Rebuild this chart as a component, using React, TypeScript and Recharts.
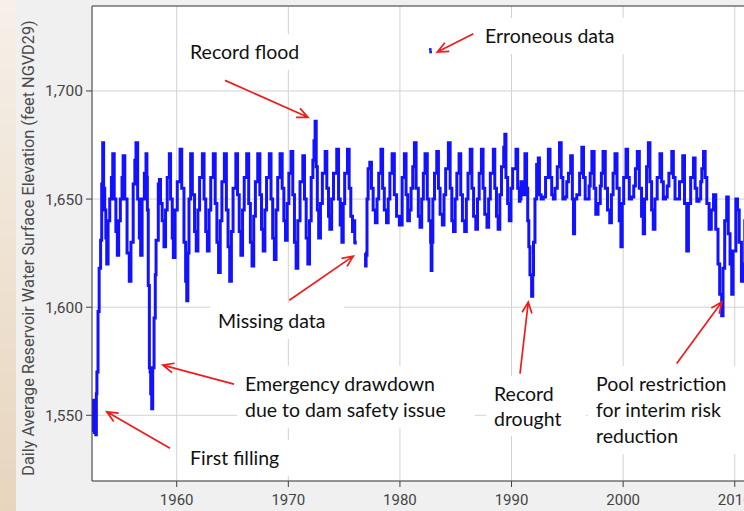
import { ComposedChart, Line, Scatter, XAxis, YAxis, CartesianGrid, ReferenceLine } from 'recharts'

type Pt = [number, number | null]

// daily elevation at a few points per yearly cycle
const elev1950s: Pt[] = [
  [1952.45, 1556], [1952.5, 1543], [1952.55, 1557], [1952.62, 1542], [1952.68, 1555], [1952.75, 1541],
  [1952.8, 1560], [1952.85, 1570], [1952.95, 1598],
  [1953.05, 1618], [1953.18, 1631], [1953.28, 1657], [1953.37, 1676], [1953.45, 1655], [1953.55, 1645],
  [1953.65, 1632], [1953.73, 1620], [1953.85, 1640],
  [1954.0, 1650], [1954.15, 1660], [1954.27, 1671], [1954.4, 1650], [1954.55, 1635], [1954.68, 1624], [1954.8, 1640],
  [1954.95, 1650], [1955.1, 1660], [1955.2, 1670], [1955.35, 1650], [1955.55, 1625], [1955.75, 1612], [1955.9, 1630],
  [1956.1, 1657], [1956.25, 1668], [1956.35, 1676], [1956.5, 1650], [1956.65, 1632], [1956.77, 1624], [1956.9, 1650],
  [1957.1, 1662], [1957.25, 1671], [1957.33, 1660], [1957.37, 1645], [1957.45, 1610], [1957.55, 1572],
  [1957.62, 1570], [1957.67, 1560], [1957.76, 1553], [1957.85, 1572], [1957.97, 1595],
  [1958.08, 1615], [1958.15, 1631], [1958.35, 1657], [1958.45, 1659], [1958.55, 1648], [1958.7, 1640], [1958.86, 1628],
  [1959.0, 1645], [1959.15, 1660], [1959.34, 1671], [1959.45, 1650], [1959.6, 1632], [1959.7, 1623], [1959.85, 1645],
]

const elev1960s: Pt[] = [
  [1960.05, 1658], [1960.3, 1673], [1960.45, 1655], [1960.65, 1630], [1960.8, 1612], [1960.9, 1603],
  [1961.0, 1625], [1961.1, 1650], [1961.25, 1671], [1961.4, 1652], [1961.6, 1635], [1961.75, 1626], [1961.9, 1645],
  [1962.05, 1660], [1962.3, 1671], [1962.45, 1650], [1962.6, 1635], [1962.75, 1626], [1962.9, 1645],
  [1963.05, 1660], [1963.28, 1671], [1963.45, 1648], [1963.6, 1630], [1963.75, 1616], [1963.9, 1640],
  [1964.05, 1658], [1964.27, 1671], [1964.45, 1645], [1964.6, 1628], [1964.75, 1612], [1964.9, 1635],
  [1965.05, 1655], [1965.3, 1671], [1965.45, 1652], [1965.6, 1635], [1965.75, 1624], [1965.9, 1645],
  [1966.05, 1660], [1966.27, 1671], [1966.45, 1648], [1966.6, 1630], [1966.75, 1619], [1966.9, 1642],
  [1967.05, 1658], [1967.26, 1671], [1967.45, 1652], [1967.6, 1636], [1967.75, 1626], [1967.9, 1645],
  [1968.05, 1660], [1968.3, 1671], [1968.45, 1650], [1968.6, 1632], [1968.75, 1622], [1968.9, 1645],
  [1969.05, 1660], [1969.26, 1671], [1969.45, 1655], [1969.6, 1640], [1969.75, 1631], [1969.9, 1648],
]

const elev1970s: Pt[] = [
  [1970.05, 1662], [1970.24, 1672], [1970.4, 1652], [1970.55, 1630], [1970.7, 1618], [1970.85, 1640],
  [1971.05, 1658], [1971.3, 1670], [1971.45, 1650], [1971.6, 1632], [1971.75, 1620], [1971.9, 1640],
  [1972.05, 1660], [1972.2, 1668], [1972.3, 1677], [1972.4, 1686], [1972.5, 1665], [1972.6, 1645], [1972.72, 1632], [1972.88, 1648],
  [1973.05, 1662], [1973.3, 1672], [1973.45, 1655], [1973.6, 1642], [1973.72, 1636], [1973.88, 1650],
  [1974.05, 1662], [1974.34, 1673], [1974.5, 1650], [1974.65, 1638], [1974.8, 1630], [1974.92, 1648],
  [1975.05, 1662], [1975.3, 1673], [1975.45, 1655], [1975.6, 1642], [1975.75, 1635], [1975.85, 1640], [1975.95, 1630], [1976.0, 1629],
  [1976.4, null],
  [1976.87, 1625], [1976.92, 1619], [1976.97, 1624],
  [1977.05, 1650], [1977.15, 1664], [1977.3, 1667], [1977.45, 1655], [1977.6, 1645], [1977.8, 1639], [1977.95, 1650],
  [1978.1, 1662], [1978.3, 1673], [1978.45, 1655], [1978.6, 1645], [1978.8, 1639], [1978.95, 1650],
  [1979.1, 1662], [1979.3, 1671], [1979.5, 1652], [1979.7, 1642], [1979.95, 1638],
]

const elev1980s: Pt[] = [
  [1980.2, 1660], [1980.4, 1671], [1980.55, 1652], [1980.7, 1640], [1980.85, 1645],
  [1981.0, 1655], [1981.15, 1665], [1981.3, 1676], [1981.45, 1655], [1981.65, 1642], [1981.8, 1637], [1981.95, 1650],
  [1982.1, 1662], [1982.25, 1671], [1982.45, 1650], [1982.6, 1640], [1982.75, 1630], [1982.8, 1617], [1982.87, 1630], [1982.95, 1650],
  [1983.1, 1662], [1983.3, 1672], [1983.45, 1655], [1983.6, 1643], [1983.8, 1638], [1983.95, 1652],
  [1984.1, 1664], [1984.34, 1676], [1984.5, 1655], [1984.65, 1640], [1984.8, 1635], [1984.95, 1650],
  [1985.1, 1662], [1985.3, 1671], [1985.45, 1652], [1985.6, 1640], [1985.8, 1635], [1985.95, 1650],
  [1986.1, 1662], [1986.3, 1673], [1986.45, 1655], [1986.6, 1642], [1986.8, 1636], [1986.95, 1650],
  [1987.1, 1662], [1987.3, 1673], [1987.45, 1655], [1987.6, 1643], [1987.8, 1637], [1987.95, 1650],
  [1988.1, 1662], [1988.37, 1673], [1988.5, 1655], [1988.65, 1642], [1988.8, 1636], [1988.95, 1652],
  [1989.1, 1665], [1989.3, 1674], [1989.4, 1680], [1989.5, 1660], [1989.65, 1648], [1989.8, 1640], [1989.95, 1655],
]

const elev1990s: Pt[] = [
  [1990.1, 1664], [1990.4, 1673], [1990.55, 1655], [1990.7, 1649], [1990.76, 1650], [1990.85, 1658],
  [1991.0, 1652], [1991.2, 1671], [1991.35, 1655], [1991.45, 1640], [1991.55, 1628], [1991.65, 1615], [1991.8, 1605], [1991.9, 1615], [1991.97, 1630],
  [1992.1, 1650], [1992.25, 1666], [1992.4, 1669], [1992.5, 1652], [1992.65, 1650], [1992.85, 1651],
  [1993.05, 1660], [1993.3, 1673], [1993.45, 1660], [1993.6, 1652], [1993.75, 1650], [1993.9, 1655],
  [1994.1, 1665], [1994.3, 1676], [1994.45, 1660], [1994.6, 1650], [1994.8, 1651], [1994.95, 1658],
  [1995.1, 1662], [1995.3, 1670], [1995.45, 1650], [1995.55, 1634], [1995.65, 1650], [1995.85, 1652],
  [1996.1, 1662], [1996.3, 1674], [1996.45, 1660], [1996.6, 1650], [1996.8, 1650], [1996.95, 1656],
  [1997.05, 1662], [1997.2, 1672], [1997.4, 1655], [1997.55, 1643], [1997.75, 1648], [1997.95, 1656],
  [1998.05, 1662], [1998.2, 1672], [1998.4, 1655], [1998.6, 1645], [1998.8, 1639], [1998.95, 1652],
  [1999.1, 1662], [1999.27, 1671], [1999.45, 1655], [1999.65, 1640], [1999.8, 1628], [1999.92, 1648],
]

const elev2000s: Pt[] = [
  [2000.05, 1660], [2000.26, 1673], [2000.4, 1660], [2000.55, 1650], [2000.75, 1651], [2000.95, 1656],
  [2001.1, 1664], [2001.27, 1672], [2001.45, 1655], [2001.65, 1642], [2001.8, 1634], [2001.92, 1650],
  [2002.1, 1665], [2002.26, 1676], [2002.4, 1658], [2002.55, 1645], [2002.7, 1636], [2002.85, 1650],
  [2003.05, 1660], [2003.3, 1671], [2003.45, 1658], [2003.6, 1650], [2003.8, 1651], [2003.95, 1656],
  [2004.1, 1662], [2004.36, 1672], [2004.5, 1660], [2004.65, 1650], [2004.85, 1650],
  [2005.05, 1658], [2005.34, 1670], [2005.5, 1648], [2005.7, 1626], [2005.85, 1648],
  [2006.05, 1660], [2006.3, 1669], [2006.45, 1655], [2006.6, 1649], [2006.8, 1650], [2006.95, 1658],
  [2007.05, 1664], [2007.2, 1672], [2007.35, 1660], [2007.5, 1648], [2007.7, 1636], [2007.9, 1645],
  [2008.1, 1652], [2008.3, 1636], [2008.5, 1620], [2008.65, 1606], [2008.83, 1596], [2008.95, 1618],
  [2009.1, 1640], [2009.28, 1651], [2009.42, 1634], [2009.58, 1620], [2009.73, 1606], [2009.85, 1626],
  [2010.1, 1650], [2010.25, 1645], [2010.4, 1630], [2010.6, 1612], [2010.75, 1620], [2010.9, 1640], [2011.1, 1645],
]

const erroneous: Pt[] = [[1982.72, 1719.2], [1982.75, 1718.0]]

const yearTicks = [1960, 1970, 1980, 1990, 2000, 2010]
const elevTicks = [1550, 1600, 1650, 1700]

// arrows: tail -> tip, in [year, feet]
const arrows: [number, number, number, number][] = [
  [1964.33, 1704.9, 1971.77, 1687.8],
  [1986.58, 1726.5, 1983.35, 1718.0],
  [1970.09, 1603.2, 1975.82, 1623.6],
  [1965.13, 1564.4, 1958.75, 1573.2],
  [1959.4, 1534.7, 1953.73, 1551.6],
  [1990.76, 1569.3, 1991.5, 1602.4],
  [2004.8, 1574.0, 2008.84, 1602.4],
]

const notes = [
  { text: 'Record flood', x: 190, y: 39, w: 112, lh: 26 },
  { text: 'Erroneous data', x: 485, y: 23, w: 140, lh: 26 },
  { text: 'Missing data', x: 218, y: 308, w: 118, lh: 26 },
  { text: 'Emergency drawdown\ndue to dam safety issue', x: 245, y: 371, w: 222, lh: 26 },
  { text: 'First filling', x: 190, y: 445, w: 92, lh: 26 },
  { text: 'Record\ndrought', x: 494, y: 381, w: 84, lh: 25 },
  { text: 'Pool restriction\nfor interim risk\nreduction', x: 596, y: 371, w: 140, lh: 26 },
]

const series = [...elev1950s, ...elev1960s, ...elev1970s, ...elev1980s, ...elev1990s, ...elev2000s].map(([t, v]) => ({ t, v }))
const errData = erroneous.map(([t, v]) => ({ t, v }))

const Y_MIN = 1519.6
const Y_MAX = 1739.3

function Arrow(props: any) {
  const { x1, y1, x2, y2 } = props
  const a = Math.atan2(y2 - y1, x2 - x1)
  const len = 12
  const spread = 0.42
  const hx1 = x2 - len * Math.cos(a - spread)
  const hy1 = y2 - len * Math.sin(a - spread)
  const hx2 = x2 - len * Math.cos(a + spread)
  const hy2 = y2 - len * Math.sin(a + spread)
  return (
    <path
      d={`M${x1},${y1}L${x2},${y2}M${hx1},${hy1}L${x2},${y2}L${hx2},${hy2}`}
      stroke="#ee1c1c"
      strokeWidth={1.7}
      fill="none"
    />
  )
}

export default function App() {
  return (
    <div style={{ position: 'fixed', left: 0, top: 0, width: 744, height: 511, overflow: 'hidden', background: '#f0f0f0' }}>
      <div style={{ position: 'absolute', left: 0, top: 0, width: 16, height: 511, background: 'linear-gradient(#f6f0e9, #e7d5bd)' }} />
      <div style={{ position: 'absolute', left: 0, top: 0 }}>
        <ComposedChart width={780} height={511} margin={{ top: 6, right: 12, bottom: 0, left: 0 }}>
          <CartesianGrid stroke="#d2d2d2" fill="#ffffff" />
          <XAxis
            type="number"
            dataKey="t"
            domain={[1952.41, 2012.98]}
            allowDataOverflow
            ticks={yearTicks}
            height={30}
            tickSize={6}
            tickMargin={7}
            axisLine={{ stroke: '#404040' }}
            tickLine={{ stroke: '#404040' }}
            tick={{ fill: '#444', fontSize: 15, fontFamily: 'Roboto' }}
          />
          <YAxis
            type="number"
            dataKey="v"
            domain={[Y_MIN, Y_MAX]}
            allowDataOverflow
            ticks={elevTicks}
            width={92}
            tickSize={6}
            tickMargin={3}
            tickFormatter={(v: number) => v.toLocaleString('en-US')}
            axisLine={{ stroke: '#404040' }}
            tickLine={{ stroke: '#404040' }}
            tick={{ fill: '#444', fontSize: 15.5, fontFamily: 'Roboto' }}
            label={() => (
              <text
                x={28}
                y={248}
                transform="rotate(-90 28 248)"
                textAnchor="middle"
                dominantBaseline="central"
                fill="#4a4a4a"
                fontSize={16.3}
                fontFamily="Roboto"
              >
                Daily Average Reservoir Water Surface Elevation (feet NGVD29)
              </text>
            )}
          />
          <ReferenceLine y={Y_MAX} stroke="#404040" ifOverflow="visible" />
          <Line
            data={series}
            dataKey="v"
            type="stepAfter"
            stroke="#1212ff"
            strokeWidth={3}
            dot={false}
            connectNulls={false}
            isAnimationActive={false}
          />
          <Scatter
            data={errData}
            dataKey="v"
            fill="#1212ff"
            isAnimationActive={false}
            shape={(p: any) => <rect x={p.cx - 1.3} y={p.cy - 1.3} width={2.6} height={2.6} fill="#1212ff" />}
          />
          {arrows.map(([x1, y1, x2, y2], i) => (
            <ReferenceLine
              key={i}
              segment={[{ x: x1, y: y1 }, { x: x2, y: y2 }]}
              ifOverflow="visible"
              shape={Arrow}
            />
          ))}
        </ComposedChart>
      </div>
      {notes.map((n) => (
        <div
          key={n.text}
          style={{
            position: 'absolute',
            left: n.x - 8,
            top: n.y - 5,
            width: n.w + 16,
            padding: '5px 8px',
            boxSizing: 'border-box',
            background: '#fff',
            whiteSpace: 'pre',
            fontFamily: 'Lato',
            fontSize: 19.5,
            lineHeight: `${n.lh}px`,
            color: '#111',
          }}
        >
          {n.text}
        </div>
      ))}
    </div>
  )
}
